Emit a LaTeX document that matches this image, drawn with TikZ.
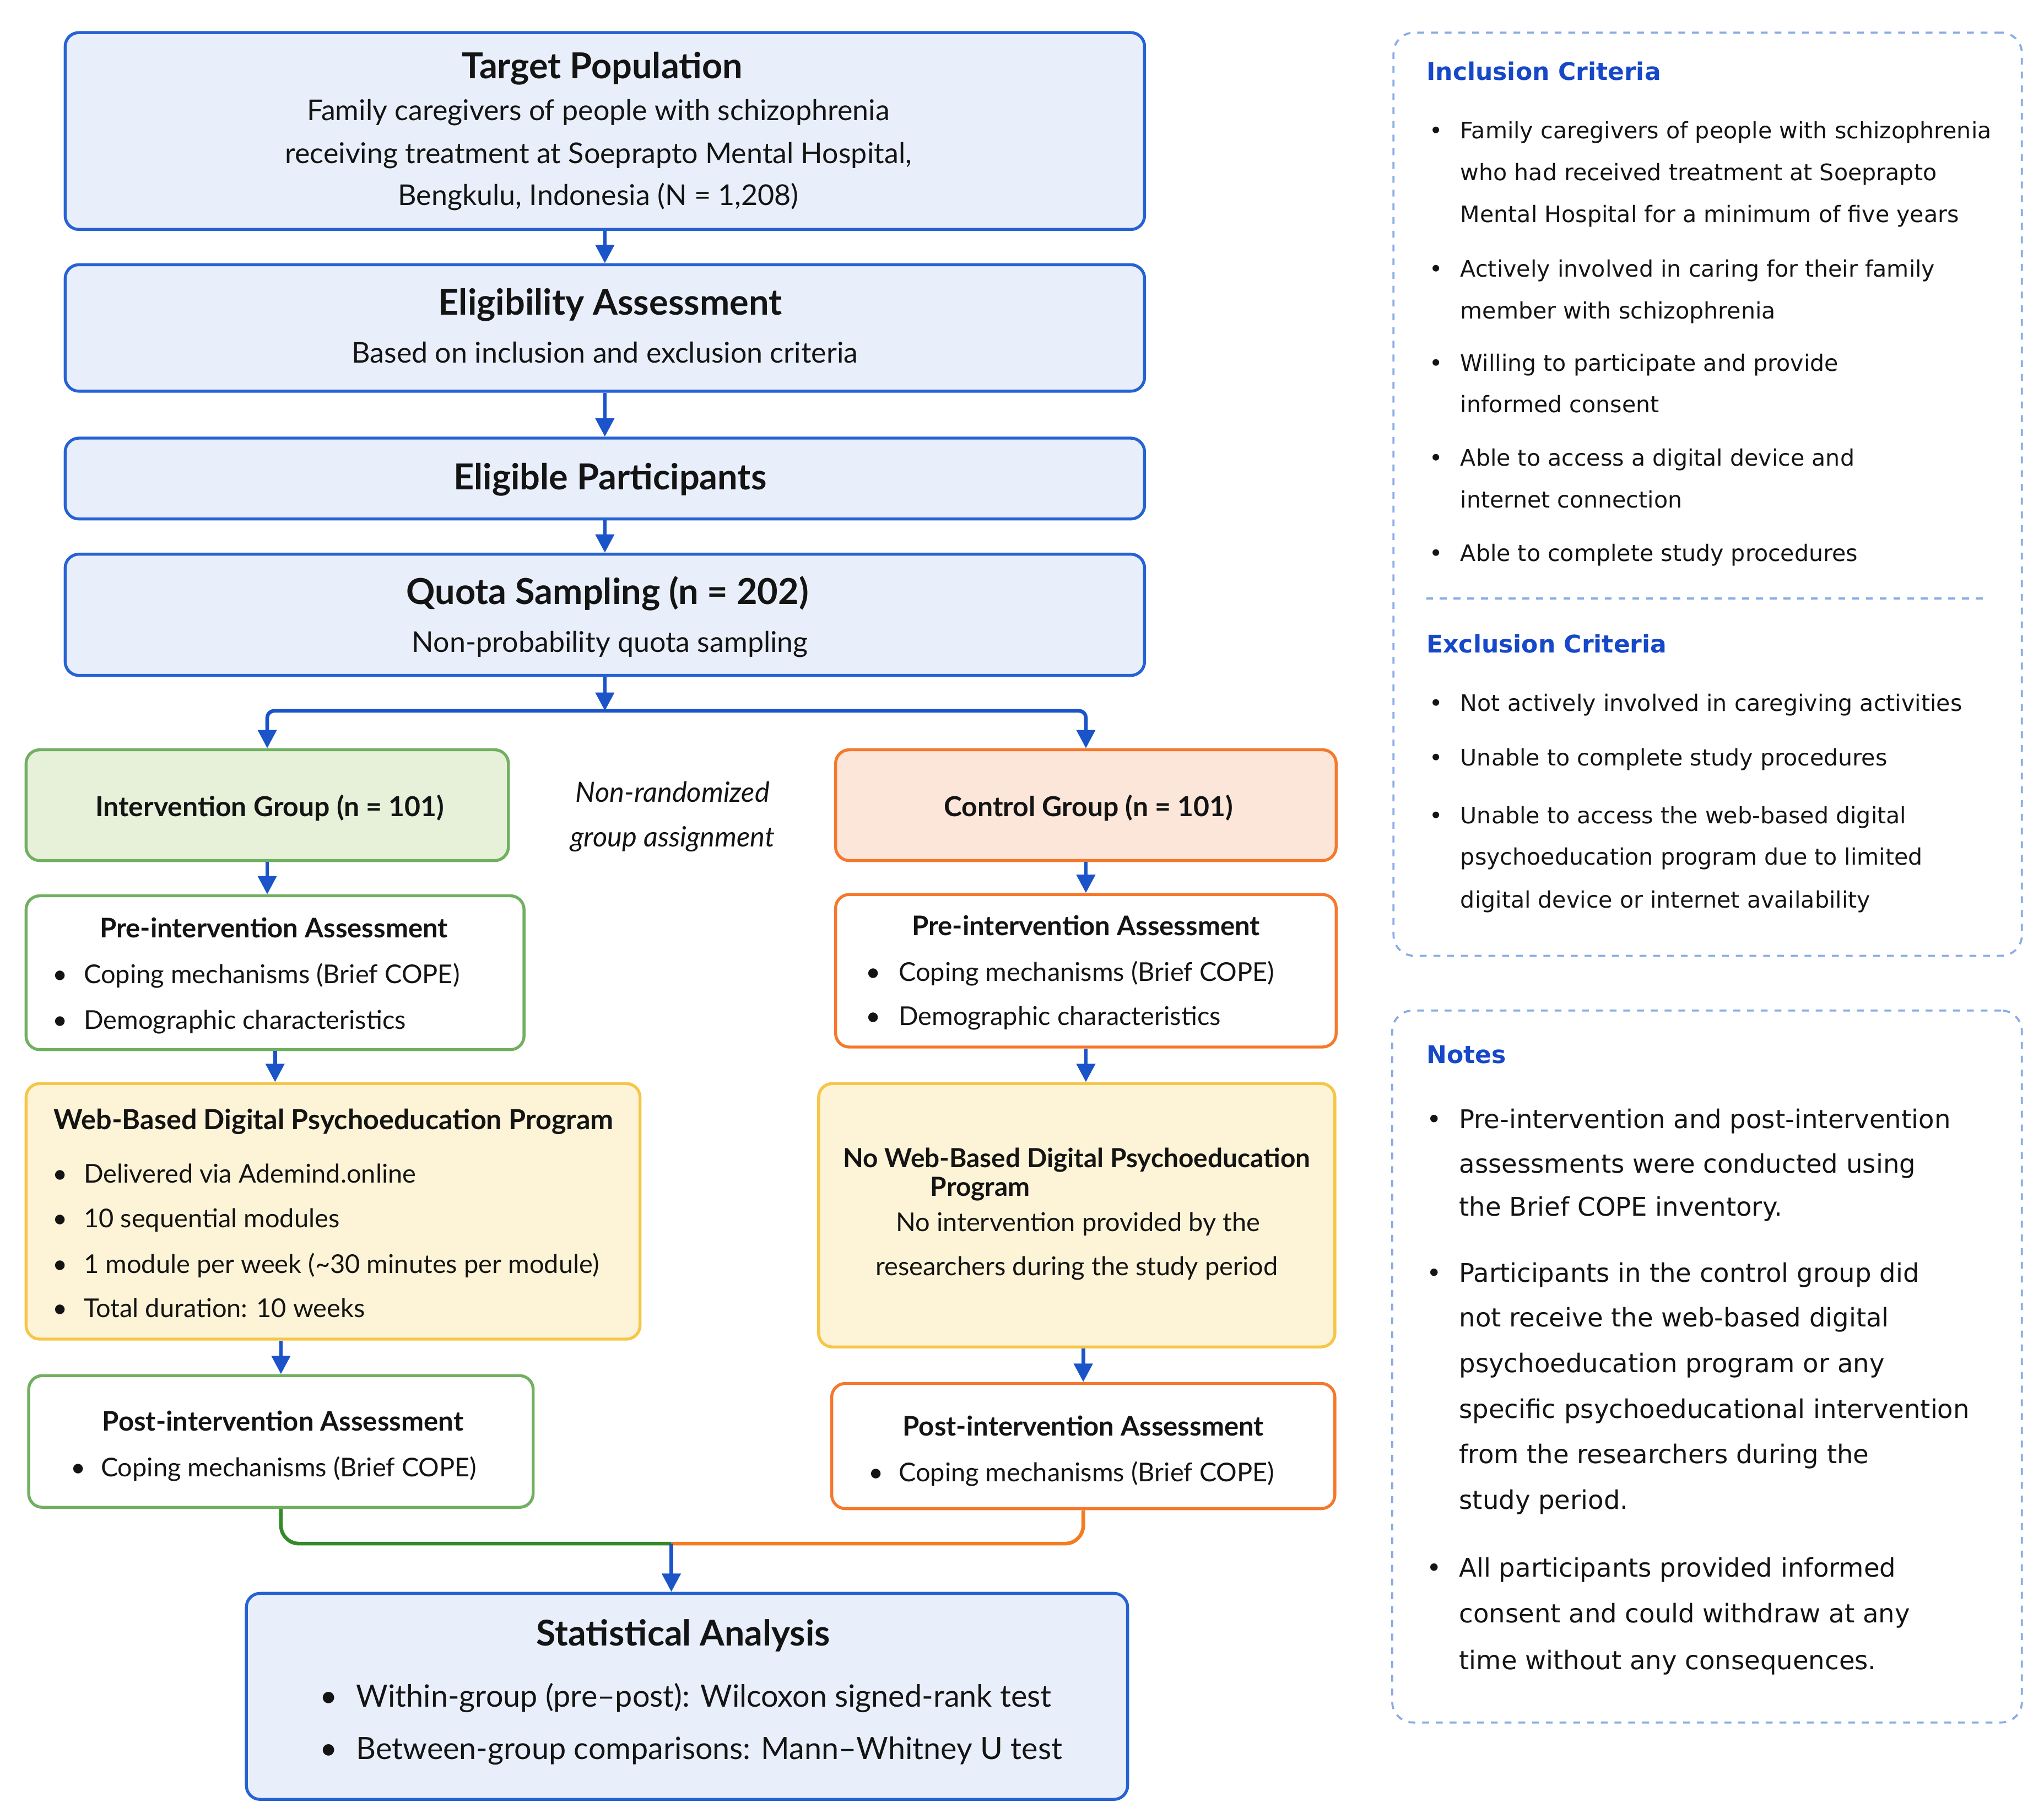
\documentclass[tikz,border=0pt]{standalone}
\usepackage{fontspec}
\setmainfont{Lato}
\newfontfamily\panelfont{DejaVu Sans}
\usepackage{xcolor}
\usepackage{tikz}
\usetikzlibrary{positioning,calc,fit,arrows.meta}
\definecolor{flowblue}{RGB}{38,98,212}
\definecolor{flowfill}{RGB}{233,239,250}
\definecolor{arrowblue}{RGB}{26,84,200}
\definecolor{grpgreen}{RGB}{112,176,96}
\definecolor{grpgreenfill}{RGB}{231,241,218}
\definecolor{linegreen}{RGB}{52,138,40}
\definecolor{grporange}{RGB}{246,120,44}
\definecolor{grporangefill}{RGB}{252,230,217}
\definecolor{lineorange}{RGB}{245,124,30}
\definecolor{progyellow}{RGB}{246,198,72}
\definecolor{progfill}{RGB}{253,243,214}
\definecolor{panelblue}{RGB}{138,172,230}
\definecolor{headblue}{RGB}{22,72,200}
\definecolor{ink}{RGB}{20,20,20}

\begin{document}
\begin{tikzpicture}[
					x=0.02cm, y=-0.02cm,
					flowbox/.style={
						draw=flowblue, fill=flowfill, line width=1.3pt,
						rounded corners=6pt, inner sep=0pt
					},
					greenbox/.style={draw=grpgreen, line width=1.3pt, rounded corners=6pt, inner sep=0pt},
					orangebox/.style={draw=grporange, line width=1.3pt, rounded corners=6pt, inner sep=0pt},
					progbox/.style={draw=progyellow, fill=progfill, line width=1.3pt, rounded corners=6pt, inner sep=0pt},
					panelbox/.style={draw=panelblue, dashed, line width=0.9pt, rounded corners=9pt, inner sep=0pt},
					arr/.style={draw=arrowblue, line width=1.6pt, -{Triangle[width=8pt,length=8pt]}},
					txt/.style={anchor=mid, inner sep=0pt, yshift=-2.2pt, text=ink, font=\fontsize{12.5}{15}\selectfont},
					ttl/.style={txt, yshift=-0.6pt, font=\fontsize{15.6}{18}\selectfont\bfseries},
					subttl/.style={txt, font=\fontsize{11.8}{14}\selectfont\bfseries},
					item/.style={txt, anchor=mid west, font=\fontsize{11.3}{13}\selectfont},
					dot/.style={txt, font=\fontsize{11.3}{13}\selectfont},
					ptxt/.style={anchor=mid west, inner sep=0pt, yshift=-1.7pt, text=ink, font=\panelfont\fontsize{9.9}{12}\selectfont},
					phead/.style={ptxt, text=headblue, font=\panelfont\bfseries\fontsize{10.6}{13}\selectfont},
					ntxt/.style={ptxt, font=\panelfont\fontsize{11.2}{13}\selectfont}
					]
					\useasboundingbox (0,0) rectangle (1568,1394);
					
					% main chain
					\node[flowbox, fit={(50,25) (878,176)}] (target) {};
					\node[flowbox, fit={(50,203) (878,300)}] (elig) {};
					\node[flowbox, fit={(50,336) (878,398)}] (eligp) {};
					\node[flowbox, fit={(50,425) (878,518)}] (quota) {};
					
					\node[ttl] (targetT) at (462,51) {Target Population};
					\node[txt] (targetA) at (459,84) {Family caregivers of people with schizophrenia};
					\node[txt] (targetB) at (459,117) {receiving treatment at Soeprapto Mental Hospital,};
					\node[txt] (targetC) at (459,149) {Bengkulu, Indonesia (N = 1,208)};
					
					\node[ttl] (eligT) at (468,232) {Eligibility Assessment};
					\node[txt] (eligA) at (464,270) {Based on inclusion and exclusion criteria};
					
					\node[ttl] (eligpT) at (468,366) {Eligible Participants};
					
					\node[ttl] (quotaT) at (466,454) {Quota Sampling (n = 202)};
					\node[txt] (quotaA) at (468,492) {Non-probability quota sampling};
					
					% two groups
					\node[greenbox, fill=grpgreenfill, fit={(20,575) (390,660)}] (intgrp) {};
					\node[orangebox, fill=grporangefill, fit={(641,575) (1025,660)}] (ctlgrp) {};
					\node[subttl, font=\fontsize{12}{14}\selectfont\bfseries] (intgrpT) at (207,618) {Intervention Group (n = 101)};
					\node[subttl, font=\fontsize{12}{14}\selectfont\bfseries] (ctlgrpT) at (835,618) {Control Group (n = 101)};
					\node[txt, font=\fontsize{12.2}{14}\selectfont\itshape] (assignA) at (516,607) {Non-randomized};
					\node[txt, font=\fontsize{12.2}{14}\selectfont\itshape] (assignB) at (516,641) {group assignment};
					
					% pre-intervention
					\node[greenbox, fill=white, fit={(20,687) (402,805)}] (preint) {};
					\node[subttl] (preintT) at (210,711) {Pre-intervention Assessment};
					\node[dot] (preintD1) at (46,746) {•};
					\node[item] (preintA) at (64,746) {Coping mechanisms (Brief COPE)};
					\node[dot] (preintD2) at (46,781) {•};
					\node[item] (preintB) at (64,781) {Demographic characteristics};
					
					\node[orangebox, fill=white, fit={(641,686) (1025,803)}] (prectl) {};
					\node[subttl] (prectlT) at (833,709) {Pre-intervention Assessment};
					\node[dot] (prectlD1) at (670,744) {•};
					\node[item] (prectlA) at (689,744) {Coping mechanisms (Brief COPE)};
					\node[dot] (prectlD2) at (670,778) {•};
					\node[item] (prectlB) at (689,778) {Demographic characteristics};
					
					% program / no program
					\node[progbox, fit={(20,831) (491,1027)}] (webprog) {};
					\node[subttl, anchor=mid west, font=\fontsize{12.1}{14}\selectfont\bfseries] (webprogT) at (41,858) {Web-Based Digital Psychoeducation Program};
					\node[dot] (webprogD1) at (46,899) {•};
					\node[item] (webprogA) at (64,899) {Delivered via Ademind.online};
					\node[dot] (webprogD2) at (46,933) {•};
					\node[item] (webprogB) at (64,933) {10 sequential modules};
					\node[dot] (webprogD3) at (46,968) {•};
					\node[item] (webprogC) at (64,968) {1 module per week (\textasciitilde30 minutes per module)};
					\node[dot] (webprogD4) at (46,1002) {•};
					\node[item] (webprogE) at (64,1002) {Total duration: 10 weeks};
					
					\node[progbox, fit={(628,831) (1024,1033)}] (noweb) {};
					\node[subttl, font=\fontsize{11.5}{14}\selectfont\bfseries] (nowebT) at (826,887) {No Web-Based Digital Psychoeducation};
					\node[subttl, font=\fontsize{11.5}{14}\selectfont\bfseries] (nowebU) at (752,909) {Program};
					\node[txt, font=\fontsize{11.3}{13}\selectfont] (nowebA) at (827,936) {No intervention provided by the};
					\node[txt, font=\fontsize{11.3}{13}\selectfont] (nowebB) at (826,970) {researchers during the study period};
					
					% post-intervention
					\node[greenbox, fill=white, fit={(22,1055) (409,1156)}] (postint) {};
					\node[subttl] (postintT) at (217,1089) {Post-intervention Assessment};
					\node[dot] (postintD) at (60,1124) {•};
					\node[item] (postintA) at (77,1124) {Coping mechanisms (Brief COPE)};
					
					\node[orangebox, fill=white, fit={(638,1061) (1024,1157)}] (postctl) {};
					\node[subttl] (postctlT) at (831,1093) {Post-intervention Assessment};
					\node[dot] (postctlD) at (672,1128) {•};
					\node[item] (postctlA) at (689,1128) {Coping mechanisms (Brief COPE)};
					
					% analysis
					\node[flowbox, fit={(189,1222) (865,1380)}] (stats) {};
					\node[ttl, font=\fontsize{15.5}{18}\selectfont\bfseries] (statsT) at (524,1253) {Statistical Analysis};
					\node[dot, font=\fontsize{13.4}{15}\selectfont] (statsD1) at (252,1301) {•};
					\node[item, font=\fontsize{13.4}{15}\selectfont] (statsA) at (273,1301) {Within-group (pre–post): Wilcoxon signed-rank test};
					\node[dot, font=\fontsize{13.4}{15}\selectfont] (statsD2) at (252,1341) {•};
					\node[item, font=\fontsize{13.4}{15}\selectfont] (statsB) at (273,1341) {Between-group comparisons: Mann–Whitney U test};
					
					% connectors
					\draw[arr] (target) -- (elig);
					\draw[arr] (elig) -- (eligp);
					\draw[arr] (eligp) -- (quota);
					\coordinate (split) at ($(quota.south)+(0,26)$);
					\draw[arr] (quota.south) -- (split);
					\draw[arr, rounded corners=3pt] (split) -| (intgrp.north);
					\draw[arr, rounded corners=3pt] (split) -| (ctlgrp.north);
					\draw[arr] (intgrp.south) -- (intgrp.south |- preint.north);
					\draw[arr] (preint.south) -- (preint.south |- webprog.north);
					\draw[arr] (webprog.south -| postint.north) -- (postint.north);
					\draw[arr] (ctlgrp.south) -- (ctlgrp.south |- prectl.north);
					\draw[arr] (prectl.south) -- (prectl.south |- noweb.north);
					\draw[arr] (noweb.south -| postctl.north) -- (postctl.north);
					\coordinate (merge) at ($(stats.north)+(-12,-37)$);
					\draw[draw=linegreen, line width=1.6pt, rounded corners=8pt] (postint.south) |- (merge);
					\draw[draw=lineorange, line width=1.6pt, rounded corners=8pt] (postctl.south) |- (merge);
					\draw[arr] (merge) -- (merge |- stats.north);
					
					% criteria panel
					\node[panelbox, fit={(1069,25) (1551,733)}] (inclbox) {};
					\node[phead] (inclT) at (1094,54) {Inclusion Criteria};
					\node[ptxt] (inclD1) at (1096,99) {•};
					\node[ptxt] (inclA) at (1120,99) {Family caregivers of people with schizophrenia};
					\node[ptxt] (inclB) at (1120,131) {who had received treatment at Soeprapto};
					\node[ptxt] (inclC) at (1120,163) {Mental Hospital for a minimum of five years};
					\node[ptxt] (inclD2) at (1096,205) {•};
					\node[ptxt] (inclE) at (1120,205) {Actively involved in caring for their family};
					\node[ptxt] (inclF) at (1120,237) {member with schizophrenia};
					\node[ptxt] (inclD3) at (1096,277) {•};
					\node[ptxt] (inclG) at (1120,277) {Willing to participate and provide};
					\node[ptxt] (inclH) at (1120,309) {informed consent};
					\node[ptxt] (inclD4) at (1096,350) {•};
					\node[ptxt] (inclI) at (1120,350) {Able to access a digital device and};
					\node[ptxt] (inclJ) at (1120,382) {internet connection};
					\node[ptxt] (inclD5) at (1096,423) {•};
					\node[ptxt] (inclK) at (1120,423) {Able to complete study procedures};
					
					\coordinate (sepL) at (1094,459);
					\coordinate (sepR) at (1522,459);
					\draw[draw=panelblue, dashed, line width=0.9pt] (sepL) -- (sepR);
					
					\node[phead] (exclT) at (1094,493) {Exclusion Criteria};
					\node[ptxt] (exclD1) at (1096,538) {•};
					\node[ptxt] (exclA) at (1120,538) {Not actively involved in caregiving activities};
					\node[ptxt] (exclD2) at (1096,580) {•};
					\node[ptxt] (exclB) at (1120,580) {Unable to complete study procedures};
					\node[ptxt] (exclD3) at (1096,624) {•};
					\node[ptxt] (exclC) at (1120,624) {Unable to access the web-based digital};
					\node[ptxt] (exclE) at (1120,656) {psychoeducation program due to limited};
					\node[ptxt] (exclF) at (1120,689) {digital device or internet availability};
					
					% notes panel
					\node[panelbox, fit={(1068,775) (1551,1321)}] (notesbox) {};
					\node[phead] (notesT) at (1094,808) {Notes};
					\node[ntxt] (notesD1) at (1094,858) {•};
					\node[ntxt] (notesA) at (1119,858) {Pre-intervention and post-intervention};
					\node[ntxt] (notesB) at (1119,892) {assessments were conducted using};
					\node[ntxt] (notesC) at (1119,925) {the Brief COPE inventory.};
					\node[ntxt] (notesD2) at (1094,976) {•};
					\node[ntxt] (notesE) at (1119,976) {Participants in the control group did};
					\node[ntxt] (notesF) at (1119,1010) {not receive the web-based digital};
					\node[ntxt] (notesG) at (1119,1045) {psychoeducation program or any};
					\node[ntxt] (notesH) at (1119,1080) {specific psychoeducational intervention};
					\node[ntxt] (notesI) at (1119,1115) {from the researchers during the};
					\node[ntxt] (notesJ) at (1119,1150) {study period.};
					\node[ntxt] (notesD3) at (1094,1202) {•};
					\node[ntxt] (notesK) at (1119,1202) {All participants provided informed};
					\node[ntxt] (notesL) at (1119,1237) {consent and could withdraw at any};
					\node[ntxt] (notesM) at (1119,1273) {time without any consequences.};
				\end{tikzpicture}
\end{document}
